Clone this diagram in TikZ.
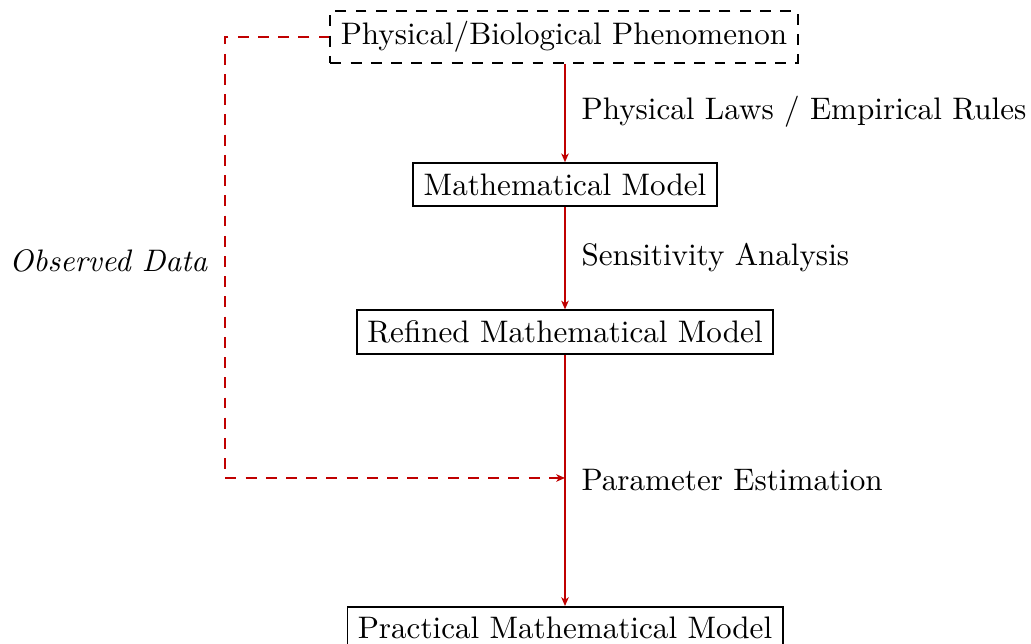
\documentclass[tikz,border=0pt]{standalone}
\usetikzlibrary{arrows.meta}
\definecolor{arrred}{RGB}{192,0,0}
\tikzset{
  box/.style={draw=black, semithick, font=\fontsize{10}{12}\selectfont},
  dbox/.style={box, dash pattern=on 3.5pt off 3pt},
  flow/.style={draw=arrred, semithick, -{Stealth[length=2.8pt,width=2.4pt,inset=0.8pt]}},
  dflow/.style={flow, dash pattern=on 3.5pt off 3pt},
  lab/.style={font=\fontsize{10}{12}\selectfont, anchor=west, inner sep=0pt},
}
\begin{document}
\begin{tikzpicture}[x=0.3215pt, y=-0.3215pt]
\useasboundingbox (0,0) rectangle (1031,644);
\node[dbox] (phen) at (564,37) {Physical/Biological Phenomenon};
\node[box] (math) at (565,184.5) {Mathematical Model};
\node[box] (ref) at (565,332) {Refined Mathematical Model};
\node[box, anchor=north] (prac) at (565,606) {Practical Mathematical Model};
\coordinate (pe) at (565,478);
\coordinate (tl) at (225,37);
\coordinate (bl) at (225,478);
\draw[flow] (phen.south -| math) -- (math);
\draw[flow] (math) -- (ref);
\draw[flow] (ref) -- (prac);
\node[lab] (l1) at (581,112) {Physical Laws / Empirical Rules};
\node[lab] (l2) at (581,258) {Sensitivity Analysis};
\node[lab] (l3) at (581,480) {Parameter Estimation};
\draw[dflow] (phen.west) -- (tl) -- (bl) -- (pe);
\node[lab, anchor=east, font=\fontsize{10}{12}\selectfont\itshape] (obs) at (208,261) {Observed Data};
\end{tikzpicture}
\end{document}
